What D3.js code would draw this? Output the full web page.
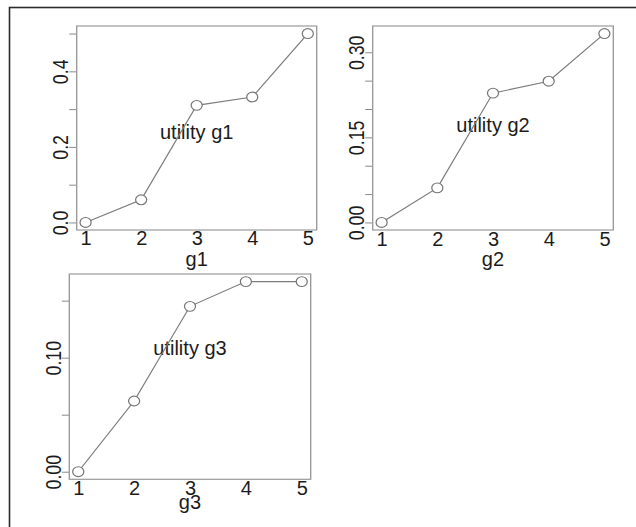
<!DOCTYPE html>
<html>
  <head>
    <meta charset="utf-8">
    <title>utility plots</title>
    <script src="https://cdn.jsdelivr.net/npm/d3@7"></script>
    <style>
      body { margin: 0; background: #fff; }
      svg { display: block; }
      text { font-family: "Liberation Sans", Arial, sans-serif; fill: #1c1c1c; }
    </style>
  </head>

  <body>
    <svg id="chart" width="636" height="527"></svg>

    <script>
      // chart data
      levels = [1, 2, 3, 4, 5];
      utilityG1 = [0, 0.06, 0.31, 0.332, 0.5];
      utilityG2 = [0, 0.061, 0.228, 0.249, 0.333];
      utilityG3 = [0, 0.062, 0.145, 0.1667, 0.1667];
      ticksG1 = [0, 0.1, 0.2, 0.3, 0.4, 0.5];
      labelsG1 = [0, 0.2, 0.4];
      ticksG2 = [0, 0.05, 0.1, 0.15, 0.2, 0.25, 0.3];
      labelsG2 = [0, 0.15, 0.3];
      ticksG3 = [0, 0.05, 0.1, 0.15];
      labelsG3 = [0, 0.1];
      titles = ["g1", "g2", "g3"];
      // where the "utility" note sits, in data units
      noteAt = [[3, 0.239], [3, 0.172], [3, 0.108]];

      // the picture is stretched sideways, the type is a little narrow
      sx = 1.13;
      fontSize = 19.5;
      narrow = "scale(0.91,1)";

      // panel layout, screen pixels
      panels = [
        { values: utilityG1, ticks: ticksG1, labels: labelsG1, format: ".1f",
          box: { left: 76.7, right: 316.7, top: 26, bottom: 230 }, tickY: 15.2, titleY: 36 },
        { values: utilityG2, ticks: ticksG2, labels: labelsG2, format: ".2f",
          box: { left: 372.7, right: 613.3, top: 26, bottom: 230 }, tickY: 16.2, titleY: 36 },
        { values: utilityG3, ticks: ticksG3, labels: labelsG3, format: ".2f",
          box: { left: 69.3, right: 310.7, top: 274, bottom: 479.3 }, tickY: 16, titleY: 29.5 }
      ];

      chart = d3.select("#chart");

      // outer frame (only top and left edges fall inside the picture)
      chart.append("rect")
        .attr("x", 9.5)
        .attr("y", 7.5)
        .attr("width", 800)
        .attr("height", 800)
        .attr("fill", "none")
        .attr("stroke", "#2b2b2b")
        .attr("stroke-width", 1.6);

      stretched = chart.append("g")
        .attr("transform", "scale(" + sx + ",1)");

      panels.forEach(function(p, i) {
        var left = p.box.left / sx,
          right = p.box.right / sx;
        var ymax = d3.max(p.values),
          pad = ymax * 0.04;

        var x = d3.scaleLinear()
          .domain([1 - 0.16, 5 + 0.16])
          .range([left, right]);
        var y = d3.scaleLinear()
          .domain([-pad, ymax + pad])
          .range([p.box.bottom, p.box.top]);

        var g = stretched.append("g");

        // y axis with rotated labels
        var yAxis = d3.axisLeft(y)
          .tickValues(p.ticks)
          .tickSize(7.5 / sx)
          .tickSizeOuter(0)
          .tickFormat(function(d) {
            return p.labels.indexOf(d) > -1 ? d3.format(p.format)(d) : "";
          });
        var yAxisGroup = g.append("g")
          .attr("transform", "translate(" + left + ",0)")
          .call(yAxis);
        yAxisGroup.select(".domain").remove();
        yAxisGroup.selectAll(".tick line")
          .attr("stroke", "#8a8a8a");
        yAxisGroup.selectAll(".tick text")
          .attr("x", null)
          .attr("dy", null)
          .attr("text-anchor", "middle")
          .attr("font-size", fontSize)
          .attr("font-family", null)
          .attr("fill", "#1c1c1c")
          .attr("transform", "translate(" + (-8.8 / sx) + ",0) rotate(-90) " + narrow);

        // x axis, no tick marks
        var xAxis = d3.axisBottom(x)
          .tickValues(levels)
          .tickSize(0)
          .tickFormat(d3.format("d"));
        var xAxisGroup = g.append("g")
          .attr("transform", "translate(0," + p.box.bottom + ")")
          .call(xAxis);
        xAxisGroup.select(".domain").remove();
        xAxisGroup.selectAll(".tick text")
          .attr("y", null)
          .attr("dy", null)
          .attr("font-size", fontSize)
          .attr("font-family", null)
          .attr("fill", "#1c1c1c")
          .attr("transform", "translate(0," + p.tickY + ") " + narrow);

        // axis title
        g.append("text")
          .attr("transform", "translate(" + (left + right) / 2 + "," + (p.box.bottom + p.titleY) + ") " + narrow)
          .attr("text-anchor", "middle")
          .attr("font-size", fontSize)
          .text(titles[i]);

        // plot box
        g.append("rect")
          .attr("x", left)
          .attr("y", p.box.top)
          .attr("width", right - left)
          .attr("height", p.box.bottom - p.box.top)
          .attr("fill", "none")
          .attr("stroke", "#9a9a9a")
          .attr("stroke-width", 1.2);

        var points = levels.map(function(l, j) {
          return { level: l, value: p.values[j] };
        });

        // note
        g.append("text")
          .attr("transform", "translate(" + x(noteAt[i][0]) + "," + y(noteAt[i][1]) + ") " + narrow)
          .attr("dy", "0.35em")
          .attr("text-anchor", "middle")
          .attr("font-size", fontSize)
          .text("utility " + titles[i]);

        // line and points
        g.append("path")
          .datum(points)
          .attr("fill", "none")
          .attr("stroke", "#7d7d7d")
          .attr("stroke-width", 1.1)
          .attr("d", d3.line()
            .x(function(d) { return x(d.level); })
            .y(function(d) { return y(d.value); }));

        g.selectAll(".pt")
          .data(points)
          .enter().append("circle")
            .classed("pt", true)
            .attr("cx", function(d) { return x(d.level); })
            .attr("cy", function(d) { return y(d.value); })
            .attr("r", 4.9)
            .attr("fill", "#fff")
            .attr("stroke", "#777")
            .attr("stroke-width", 1.1);
      });
    </script>
  </body>
</html>
